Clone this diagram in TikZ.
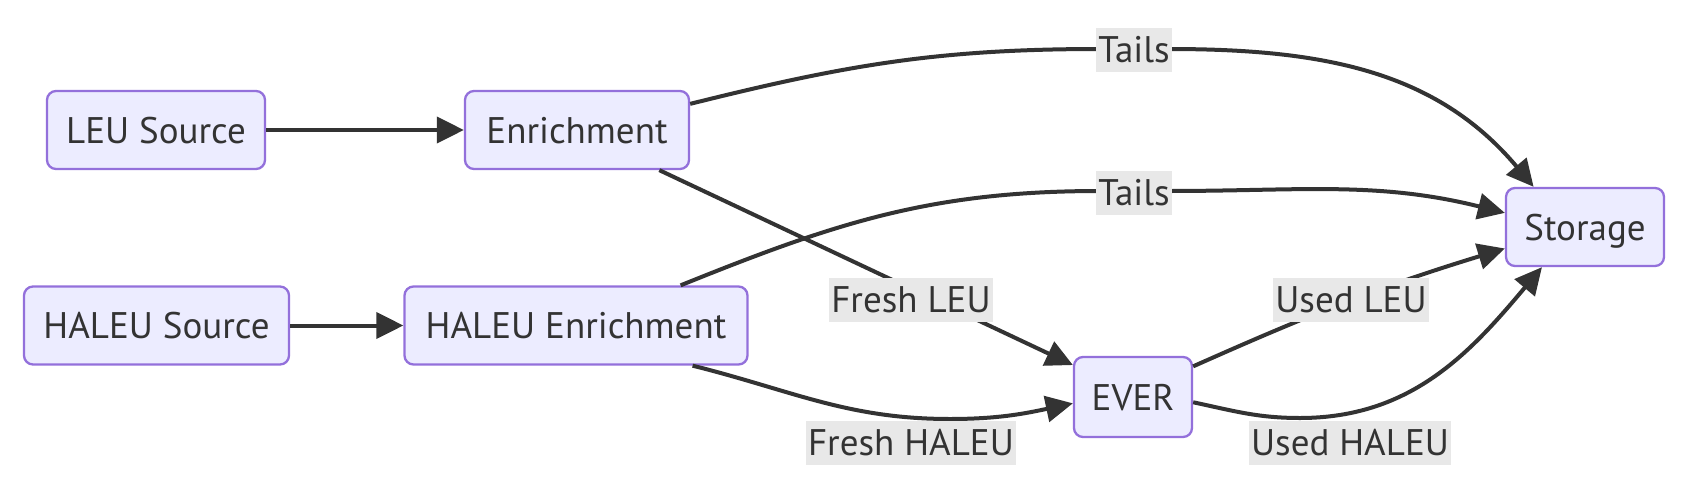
\documentclass[tikz,border=0pt]{standalone}
\usepackage{fontspec}
\setmainfont{PT Sans}
\usetikzlibrary{arrows.meta}
\definecolor{nodefill}{HTML}{ECECFF}
\definecolor{nodeline}{HTML}{9370DB}
\definecolor{ink}{HTML}{333333}
\definecolor{lblfill}{HTML}{E8E8E8}
\begin{document}
\begin{tikzpicture}[x=1pt,y=1pt,
  box/.style={draw=nodeline, fill=nodefill, line width=2.3pt, rounded corners=9pt,
    text=ink, font=\fontsize{37}{44}\selectfont, inner sep=0pt, minimum height=78pt,
    text height=26pt, text depth=0pt},
  lbl/.style={fill=lblfill, text=ink, font=\fontsize{37}{44}\selectfont,
    inner xsep=2pt, inner ysep=0pt, minimum height=44pt},
  edge/.style={draw=ink, line width=4pt, -{Triangle[length=27pt,width=26pt]}}]
\useasboundingbox (0,0) rectangle (1704,-490);
% nodes
\node[box, minimum width=218pt] (leu)  at (156,-130)   {LEU Source};
\node[box, minimum width=224pt] (enr)  at (577,-130)   {Enrichment};
\node[box, minimum width=265pt] (hsrc) at (156.5,-325.5) {HALEU Source};
\node[box, minimum width=343pt] (henr) at (576,-325.5) {HALEU Enrichment};
\node[box, minimum width=118pt, minimum height=80pt] (ever) at (1133,-397) {EVER};
\node[box, minimum width=158pt] (sto)  at (1585,-227)  {Storage};
% via coordinates
\coordinate (c1a) at (1100,-49);
\coordinate (c1b) at (1168,-49);
\coordinate (c2a) at (1100,-191);
\coordinate (c2b) at (1168,-191);
\coordinate (cfh) at (950,-419);
\coordinate (cuh) at (1300,-418);
% edges
\draw[edge] (leu) -- (enr);
\draw[edge] (hsrc) -- (henr);
\draw[edge] (enr.13.6) to[out=14,in=180] (c1a) -- (c1b) to[out=0,in=130] (sto.142.6);
\draw[edge] (henr.21.6) to[out=22,in=180] (c2a) -- (c2b) to[out=0,in=166] (sto.170);
\draw[edge] (enr.-26.6) -- (ever.152.3);
\draw[edge] (henr.-19) to[out=-14,in=180] (cfh) to[out=0,in=192] (ever.186);
\draw[edge] (ever.27.7) to[out=24,in=197] (sto.195);
\draw[edge] (ever.-5) to[out=-12,in=180] (cuh) to[out=0,in=230] (sto.223);
% labels
\node[lbl] (t1) at (1134,-50)  {Tails};
\node[lbl] (t2) at (1134,-193) {Tails};
\node[lbl] (fl) at (911,-300)  {Fresh LEU};
\node[lbl] (ul) at (1351,-300) {Used LEU};
\node[lbl] (fh) at (911,-443)  {Fresh HALEU};
\node[lbl] (uh) at (1350,-443) {Used HALEU};
\end{tikzpicture}
\end{document}
